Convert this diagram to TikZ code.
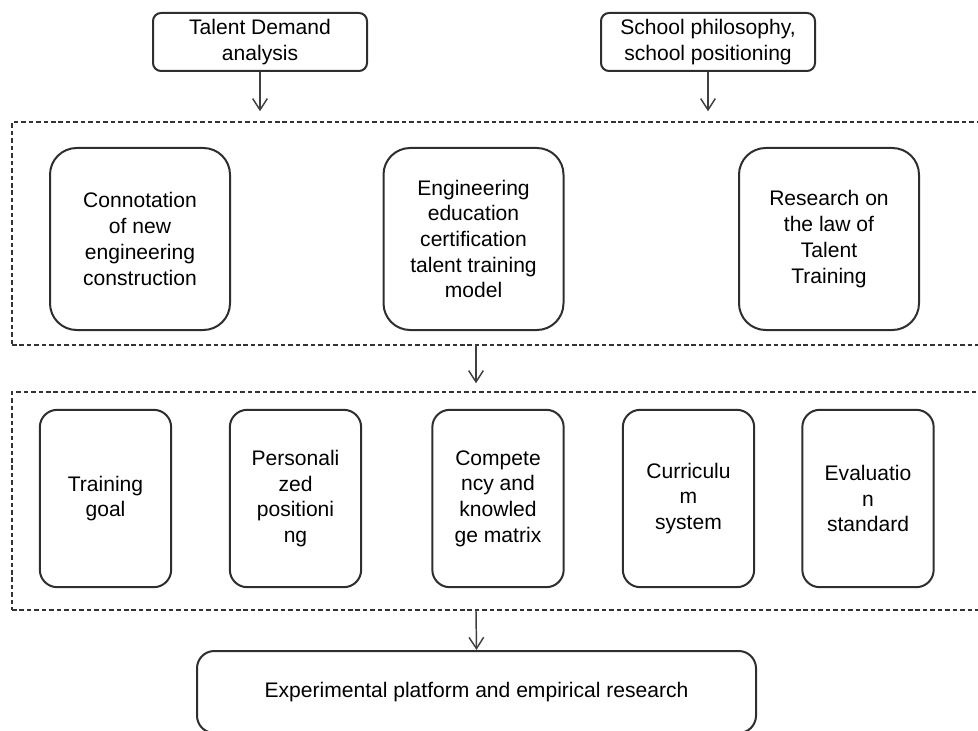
\documentclass[tikz,border=0pt]{standalone}
\usepackage{fontspec}
\setmainfont{Liberation Sans}
\usetikzlibrary{arrows.meta}

\tikzset{
	box/.style={draw=black!82, line width=1.5pt, fill=white, align=center, inner sep=0pt},
	topbox/.style={box, rounded corners=6pt, minimum width=160.5pt, minimum height=43.5pt},
	bigbox/.style={box, rounded corners=20pt, minimum width=135pt, minimum height=136.5pt},
	smallbox/.style={box, rounded corners=13pt, minimum width=98.5pt, minimum height=133pt},
	group/.style={draw=black!80, line width=1.1pt, dash pattern=on 3.4pt off 2.2pt, inner sep=0pt},
	arr/.style={draw=black!75, line width=1.1pt, -{Straight Barb[length=8.5pt,width=11pt,line width=1.1pt]}}
}

\begin{document}
\begin{tikzpicture}[x=0.75pt,y=0.75pt,yscale=-1,xscale=1,font=\fontsize{15.8}{19.3}\selectfont]
		\useasboundingbox (0,0) rectangle (978,731);
		% inputs
		\node [topbox] (demand) at (260,42) {Talent Demand\\analysis};
		\node [topbox] (philo) at (708,42) {School philosophy,\\school positioning};
		% first layer
		\node [group, minimum width=733.5pt, minimum height=167.25pt] (layer1) at (501,233.5) {};
		\node [bigbox] (conno) at (140,239) {Connotation\\of new\\engineering\\construction};
		\node [bigbox] (certif) at (473.5,239) {Engineering\\education\\certification\\talent training\\model};
		\node [bigbox] (law) at (829,239) {Research on\\the law of\\Talent\\Training};
		% second layer
		\node [group, minimum width=733.5pt, minimum height=163.5pt] (layer2) at (501,501) {};
		\node [smallbox] (goal) at (105.5,498.5) {Training\\goal};
		\node [smallbox] (person) at (295.5,498.5) {Personali\\zed\\positioni\\ng};
		\node [smallbox] (matrix) at (498,498.5) {Compete\\ncy and\\knowled\\ge matrix};
		\node [smallbox] (curric) at (688.5,498.5) {Curriculu\\m\\system};
		\node [smallbox] (evalu) at (868,498.5) {Evaluatio\\n\\standard};
		% output
		\node [box, rounded corners=13pt, minimum width=419.25pt, minimum height=61.5pt] (platform) at (476.5,692) {Experimental platform and empirical research};
		% arrows
		\draw [arr, shorten >=7.5pt] (demand.south) -- (demand.south |- layer1.north);
		\draw [arr, shorten >=7.5pt] (philo.south) -- (philo.south |- layer1.north);
		\draw [arr, shorten >=6pt] (476,345) coordinate (mid1) -- (mid1 |- layer2.north);
		\draw [arr] (mid1 |- layer2.south) -- (platform.north);
\end{tikzpicture}
\end{document}
